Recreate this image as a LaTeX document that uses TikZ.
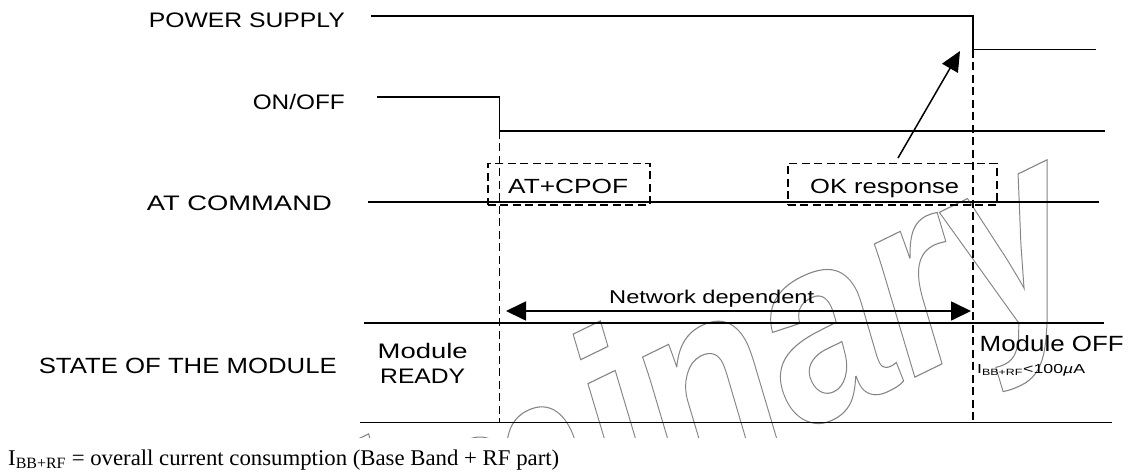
\documentclass[tikz,border=0pt]{standalone}
\usepackage{fontspec}
\setmainfont{Liberation Sans}
\newfontfamily\seriffont{Liberation Serif}
\usetikzlibrary{arrows.meta}
\newcommand\outlineon{\special{pdf:literal direct 1 Tr 1.1 w}}
\newcommand\outlineoff{\special{pdf:literal direct 0 Tr}}
\newcommand\fitw[2]{\resizebox{#1pt}{\height}{#2}}
\begin{document}
\begin{tikzpicture}[x=1pt,y=-1pt,
  sig/.style={line width=1.8pt, line join=miter},
  dsh/.style={line width=1.7pt, dash pattern=on 8pt off 4.5pt},
  lbl/.style={inner sep=0pt, anchor=base east, font=\fontsize{21}{25}\selectfont},
  txt/.style={inner sep=0pt, anchor=base west, font=\fontsize{20.5}{24}\selectfont},
  wm/.style={inner sep=0pt, anchor=base west, rotate=26, text=black!48,
     font=\fontsize{260}{260}\selectfont\bfseries\itshape}]
\fill[white] (0,0) rectangle (1129,471);
\useasboundingbox (0,0) rectangle (1129,471);
% watermark
\begin{scope}
\clip (0,0) rectangle (1129,437);
\node[wm] (wmark) at (17,815) {\outlineon\scalebox{0.85}[1]{Preliminary}\outlineoff};
\end{scope}
% labels
\node[lbl] (lps) at (345,27.3) {\fitw{196}{POWER SUPPLY}};
\node[lbl] (lon) at (345,109) {\fitw{92}{ON/OFF}};
\node[lbl] (lat) at (332,210) {\fitw{185}{AT COMMAND}};
\node[lbl, font=\fontsize{22}{26}\selectfont] (lst) at (337,373) {\fitw{298}{STATE OF THE MODULE}};
% signals
\draw[sig] (370.7,15.7) -- (973,15.7) -- (973,49.5) -- (1096,49.5);
\draw[sig] (377,96.7) -- (499.5,96.7) -- (499.5,130.7) -- (1105,130.7);
\draw[sig] (368,202) -- (1099,202);
\draw[sig] (364,322.7) -- (1104,322.7);
\draw[sig] (360,422.5) -- (1112,422.5);
% dashed verticals
\coordinate (d1t) at (499.5,130.7);
\coordinate (d1b) at (499.5,422.5);
\coordinate (d2t) at (973,49.5);
\coordinate (d2b) at (973,422.5);
\draw[dsh] (d1t) -- (d1b);
\draw[dsh] (d2t) -- (d2b);
% dashed boxes
\node[draw, dsh, minimum width=162pt, minimum height=41.5pt, inner sep=0pt, anchor=north west] (cpofbox) at (487,162.5) {};
\node[draw, dsh, minimum width=209pt, minimum height=41.5pt, inner sep=0pt, anchor=north west] (okbox) at (787,162.5) {};
\node[txt] (cpoftxt) at (508,193) {\fitw{120}{AT+CPOF}};
\node[txt] (oktxt) at (810,193) {\fitw{149}{OK response}};
% arrow OK -> power off
\coordinate (oktail) at (898,158);
\coordinate (pstep) at (960,51);
\draw[line width=1.5pt, -{Triangle[length=20pt,width=18pt]}] (oktail) -- (pstep);
% network dependent
\coordinate (netl) at (506,311);
\coordinate (netr) at (971,311);
\draw[line width=1.7pt, {Triangle[length=20pt,width=19pt]}-{Triangle[length=20pt,width=19pt]}] (netl) -- (netr);
\node[txt, font=\fontsize{18.5}{22}\selectfont] (nettxt) at (609,303) {\fitw{205}{Network dependent}};
% states
\node[txt, font=\fontsize{21}{25}\selectfont] (mr1) at (377.5,358) {\fitw{90}{Module}};
\node[txt, font=\fontsize{21}{25}\selectfont] (mr2) at (380,383) {\fitw{85}{READY}};
\node[txt, font=\fontsize{22}{26}\selectfont] (moff) at (979.5,351.7) {\fitw{144}{Module OFF}};
\node[txt, font=\fontsize{13}{15}\selectfont] (ioff) at (977,373.5) {\fitw{108}{I\textsubscript{BB+RF}<100\textit{µ}A}};
% footnote
\node[txt, font=\seriffont\fontsize{22.5}{26}\selectfont] (foot) at (8,465) {\fitw{551}{I\textsubscript{BB+RF} = overall current consumption (Base Band + RF part)}};
\end{tikzpicture}
\end{document}
